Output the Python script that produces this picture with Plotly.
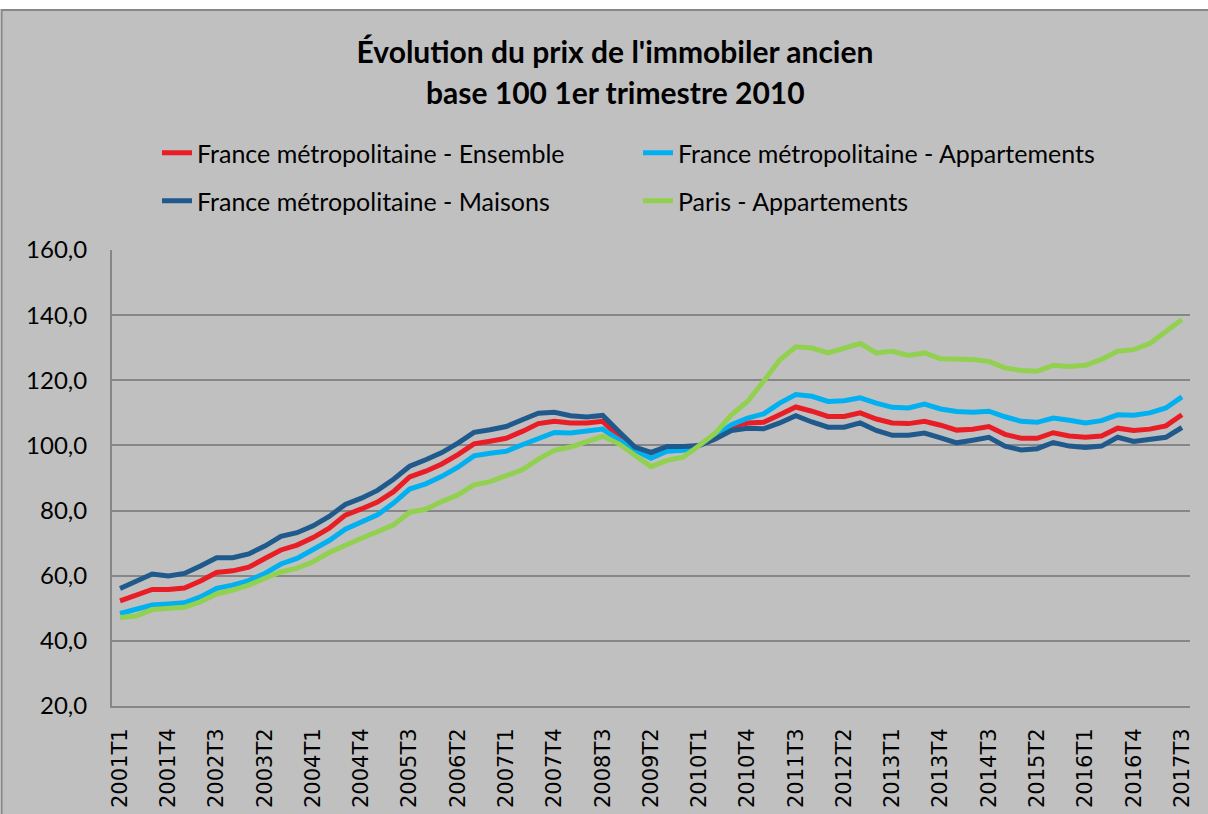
import plotly.graph_objects as go

years = list(range(2001, 2018))
quarters = [f"{y}T{q}" for y in years for q in range(1, 5)][:67]

ensemble = [52.3, 54.1, 55.8, 55.8, 56.2, 58.4, 61.0, 61.5, 62.6, 65.3,
            67.9, 69.4, 71.7, 74.6, 78.6, 80.5, 82.6, 85.8, 90.3, 92.1,
            94.3, 97.2, 100.5, 101.3, 102.2, 104.3, 106.7, 107.4, 106.9, 106.9,
            107.4, 102.7, 99.1, 97.0, 98.9, 99.1, 100.0, 102.3, 105.8, 106.9,
            107.1, 109.4, 111.8, 110.5, 108.9, 108.9, 110.0, 108.1, 106.9, 106.7,
            107.4, 106.2, 104.7, 105.0, 105.8, 103.4, 102.2, 102.2, 103.9, 102.9,
            102.5, 102.9, 105.3, 104.6, 105.0, 106.0, 109.4]

appartements = [48.4, 49.6, 51.0, 51.3, 51.7, 53.5, 56.1, 57.1, 58.5, 60.7,
                63.6, 65.3, 67.9, 70.8, 74.3, 76.5, 78.7, 82.3, 86.6, 88.2,
                90.5, 93.3, 96.8, 97.6, 98.2, 100.2, 102.2, 104.0, 103.8, 104.3,
                105.0, 101.7, 98.6, 96.1, 98.2, 98.5, 100.0, 102.8, 106.4, 108.4,
                109.7, 113.0, 115.6, 115.1, 113.5, 113.7, 114.6, 113.0, 111.7, 111.5,
                112.7, 111.2, 110.4, 110.2, 110.5, 108.8, 107.4, 107.1, 108.4, 107.7,
                106.9, 107.6, 109.4, 109.3, 110.0, 111.5, 114.9]

maisons = [56.1, 58.5, 60.5, 59.9, 60.7, 63.0, 65.5, 65.5, 66.7, 69.1,
           72.1, 73.2, 75.3, 78.2, 81.9, 83.8, 86.2, 89.6, 93.6, 95.6,
           97.8, 100.7, 104.0, 104.8, 105.8, 107.9, 109.9, 110.2, 109.1, 108.7,
           109.2, 104.3, 99.5, 97.9, 99.7, 99.7, 100.0, 102.0, 104.6, 105.3,
           105.1, 106.9, 109.1, 107.2, 105.6, 105.6, 106.9, 104.6, 103.1, 103.1,
           103.8, 102.3, 100.8, 101.6, 102.5, 99.8, 98.6, 99.0, 100.9, 99.8,
           99.4, 99.8, 102.5, 101.2, 101.7, 102.5, 105.5]

paris = [47.2, 47.6, 49.6, 49.9, 50.3, 52.0, 54.4, 55.6, 57.1, 59.2,
         61.2, 62.3, 64.3, 67.1, 69.4, 71.5, 73.5, 75.6, 79.5, 80.4,
         82.8, 84.8, 87.9, 88.9, 90.7, 92.5, 95.8, 98.5, 99.5, 101.2,
         102.8, 100.5, 97.1, 93.5, 95.4, 96.4, 100.0, 103.8, 109.4, 113.5,
         119.7, 126.2, 130.3, 129.9, 128.4, 129.9, 131.3, 128.4, 128.9, 127.6,
         128.4, 126.6, 126.6, 126.4, 125.8, 123.8, 123.0, 122.8, 124.6, 124.2,
         124.6, 126.4, 128.9, 129.4, 131.3, 134.8, 138.7]

series = [
    ("France métropolitaine - Ensemble", ensemble, "#E91D25", "legend"),
    ("France métropolitaine - Appartements", appartements, "#00B0F0", "legend"),
    ("France métropolitaine - Maisons", maisons, "#205A8C", "legend2"),
    ("Paris - Appartements", paris, "#92D050", "legend2"),
]

title_line1 = "Évolution du prix de l'immobiler ancien"
title_line2 = "base 100 1er trimestre 2010"

fig = go.Figure()
for name, vals, color, leg in series:
    fig.add_trace(go.Scatter(
        x=quarters, y=vals, name=name, mode="lines",
        line=dict(color=color, width=5), legend=leg,
    ))

W, H = 1208, 814
L, R, T, B = 112, 18, 250, 108
pw, ph = W - L - R, H - T - B

def px_x(p):
    return (p - L) / pw

def px_y(p):
    return (H - B - p) / ph

leg_common = dict(
    orientation="h", xanchor="left", yanchor="middle",
    xref="container", yref="container",
    entrywidth=436, entrywidthmode="pixels",
    bgcolor="rgba(0,0,0,0)", font=dict(family="Lato", size=25, color="black"),
    itemclick=False, itemdoubleclick=False,
)

title_font = dict(family="Lato", size=30, color="black", weight="bold")

fig.update_layout(
    width=W, height=H, autosize=False,
    margin=dict(l=L, r=R, t=T, b=B),
    paper_bgcolor="white", plot_bgcolor="#C0C0C0",
    separators=", ",
    hovermode=False,
    title=dict(text=title_line1, x=615 / W, xref="container", xanchor="center",
               y=1 - 52 / H, yref="container", yanchor="middle",
               font=title_font, automargin=False),
    legend=dict(x=157 / W, y=1 - 153 / H, **leg_common),
    legend2=dict(x=157 / W, y=1 - 201 / H, **leg_common),
    showlegend=True,
    shapes=[dict(type="rect", xref="paper", yref="paper",
                 x0=px_x(1.5), x1=px_x(1230), y0=px_y(840), y1=px_y(10),
                 line=dict(color="#868686", width=2), fillcolor="#C0C0C0",
                 layer="below")],
    annotations=[dict(text=title_line2, xref="paper", yref="paper",
                      x=px_x(615), y=px_y(92), xanchor="center", yanchor="middle",
                      showarrow=False, font=title_font)],
)

fig.update_yaxes(
    range=[20, 160], tick0=20, dtick=20, tickformat=".1f",
    showgrid=True, gridcolor="#868686", gridwidth=2,
    showline=True, linecolor="#868686", linewidth=2,
    zeroline=False, ticks="", automargin=False,
    tickfont=dict(family="Lato", size=24, color="black"),
    ticklabelstandoff=18,
)
fig.update_xaxes(
    type="category", range=[-0.5, 66.5],
    tickmode="array", tickvals=quarters[::3], ticktext=quarters[::3],
    tickangle=-90, showgrid=False, automargin=False,
    showline=True, linecolor="#868686", linewidth=2, ticks="",
    tickfont=dict(family="DejaVu Sans", size=21, color="black"),
    ticklabelstandoff=12,
)

fig.write_html("out.html",
               config={"displayModeBar": False},
               post_script="document.body.style.margin='0';document.body.style.padding='0';")
